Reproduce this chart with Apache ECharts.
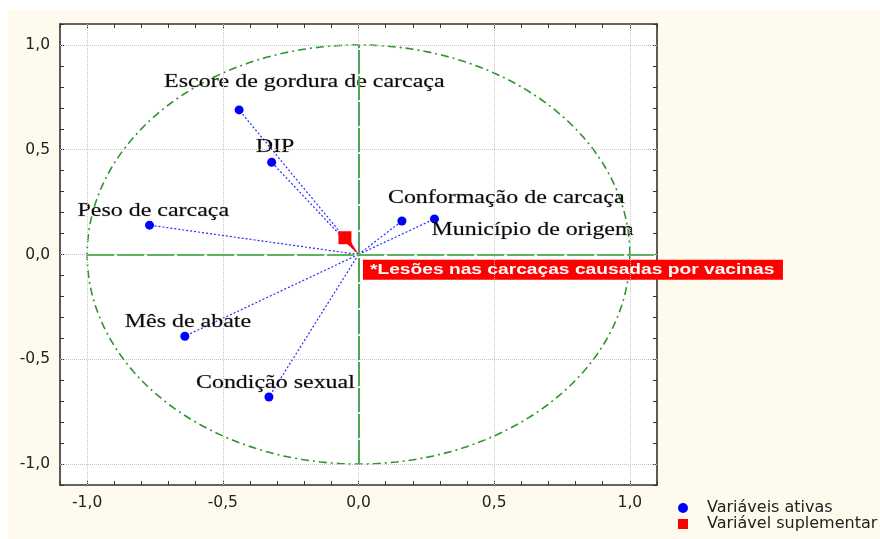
<!DOCTYPE html>
<html>
<head>
<meta charset="utf-8">
<script src="https://cdn.jsdelivr.net/npm/echarts@6/dist/echarts.min.js"></script>
<style>
html,body{margin:0;padding:0;background:#ffffff;}
#chart{width:880px;height:539px;}
</style>
</head>
<body>
<div id="chart"></div>
<script>
// ---- data ----
const varNames = ['Escore de gordura de carcaça', 'DIP', 'Peso de carcaça', 'Conformação de carcaça', 'Município de origem', 'Mês de abate', 'Condição sexual'];
const varX = [-0.44, -0.32, -0.77, 0.16, 0.28, -0.64, -0.33];
const varY = [0.69, 0.44, 0.14, 0.16, 0.17, -0.39, -0.68];
const supNames = ['*Lesões nas carcaças causadas por vacinas'];
const supX = [-0.05];
const supY = [0.08];
const tickValues = [-1, -0.5, 0, 0.5, 1];
const tickLabels = ['-1,0', '-0,5', '0,0', '0,5', '1,0'];
const legendNames = ['Variáveis ativas', 'Variável suplementar'];
const circleCenter = [0, 0];
const circleRadius = [1];

// ---- layout (pixel offsets of labels relative to their points) ----
const varLabelOffsets = [[-75, -28], [-16, -15], [-72, -14], [-14, -23], [-3, 11], [-60, -14], [-73, -14]];
const supLabelBox = [18, 22, 420, 20];

const chart = echarts.init(document.getElementById('chart'), null, {renderer: 'canvas'});

function fmt(v) {
  for (let k = 0; k < tickValues.length; k++) {
    if (Math.abs(v - tickValues[k]) < 1e-6) return tickLabels[k];
  }
  return '';
}

const frameColor = '#333333';
function mkAxis(pos, showLabel) {
  return {
    type: 'value', position: pos, min: -1.1, max: 1.1, interval: 0.1,
    axisLine: {show: true, onZero: false, lineStyle: {color: frameColor, width: 1.6}},
    axisTick: {show: true, inside: true, length: 4, lineStyle: {color: frameColor, width: 1}},
    axisLabel: {show: showLabel, formatter: fmt, fontFamily: 'DejaVu Sans', fontSize: 15.5, color: '#222', margin: 10, hideOverlap: false},
    splitLine: {show: false}
  };
}

const gridLine = {type: 'dotted', color: '#c4c4c4', width: 1};
const markData = [];
tickValues.forEach(v => markData.push({xAxis: v, lineStyle: gridLine}));
tickValues.forEach(v => markData.push({yAxis: v, lineStyle: gridLine}));
markData.push([{coord: [-1, 0], lineStyle: {type: [27, 3], color: '#5fb35f', width: 2}}, {coord: [1.1, 0]}]);
markData.push([{coord: [0, -1], lineStyle: {type: [24, 2], color: '#4fa84f', width: 2}}, {coord: [0, 1]}]);

function renderCircle(params, api) {
  const r = api.value(2);
  const cx = api.value(0), cy = api.value(1);
  const pts = [];
  for (let k = 0; k <= 180; k++) {
    const t = k / 180 * Math.PI * 2;
    pts.push(api.coord([cx + r * Math.cos(t), cy + r * Math.sin(t)]));
  }
  return {type: 'polyline', shape: {points: pts}, style: {stroke: '#2f942f', lineWidth: 1.6, fill: null, lineDash: [8, 4, 2, 4]}};
}

function renderVar(params, api) {
  const i = params.dataIndex;
  const p = api.coord([api.value(0), api.value(1)]);
  const o = api.coord([0, 0]);
  const off = varLabelOffsets[i];
  return {
    type: 'group',
    children: [
      {type: 'line', shape: {x1: o[0], y1: o[1], x2: p[0], y2: p[1]}, style: {stroke: '#2a2aff', lineWidth: 1.2, lineDash: [2, 2]}},
      {type: 'circle', shape: {cx: p[0], cy: p[1], r: 4.5}, style: {fill: '#0000ff'}},
      {type: 'text', x: p[0] + off[0], y: p[1] + off[1], scaleX: 1.26, scaleY: 1,
        style: {text: varNames[i], x: 0, y: 0, fill: '#0a0a0a', font: '19px "Liberation Serif"',
          stroke: 'rgba(40,30,10,0.35)', lineWidth: 0.6,
          align: 'left', verticalAlign: 'middle', textAlign: 'left', textVerticalAlign: 'middle'}}
    ]
  };
}

function renderSup(params, api) {
  const i = params.dataIndex;
  const p = api.coord([api.value(0), api.value(1)]);
  const o = api.coord([0, 0]);
  const b = supLabelBox;
  const dx = o[0] - p[0], dy = o[1] - p[1];
  const len = Math.sqrt(dx * dx + dy * dy) || 1;
  const nx = -dy / len, ny = dx / len;
  const w = 3;
  return {
    type: 'group',
    children: [
      {type: 'polygon', shape: {points: [[p[0] + nx * w, p[1] + ny * w], [p[0] - nx * w, p[1] - ny * w], [o[0], o[1]]]}, style: {fill: '#ff0000'}},
      {type: 'rect', shape: {x: p[0] - 6.5, y: p[1] - 6.5, width: 13, height: 13}, style: {fill: '#ff0000'}},
      {type: 'rect', shape: {x: p[0] + b[0], y: p[1] + b[1], width: b[2], height: b[3]}, style: {fill: '#ff0000'}},
      {type: 'text', x: p[0] + b[0] + 7, y: p[1] + b[1] + b[3] / 2 + 0.5, scaleX: 1.28, scaleY: 1,
        style: {text: supNames[i], x: 0, y: 0, fill: '#ffffff', font: 'bold 15px "Liberation Sans"',
          align: 'left', verticalAlign: 'middle', textAlign: 'left', textVerticalAlign: 'middle'}}
    ]
  };
}

const option = {
  animation: false,
  backgroundColor: '#ffffff',
  graphic: [{type: 'rect', left: 8, top: 10, z: -10, silent: true, shape: {width: 872, height: 529}, style: {fill: '#FFFAEE'}}],
  grid: {left: 60, right: 223, top: 24, bottom: 54, show: true, backgroundColor: '#ffffff', borderWidth: 0},
  xAxis: [mkAxis('bottom', true), mkAxis('top', false)],
  yAxis: [mkAxis('left', true), mkAxis('right', false)],
  legend: {
    orient: 'vertical', left: 678, top: 500, padding: 0, itemWidth: 10, itemHeight: 10, itemGap: 0,
    symbolKeepAspect: true,
    textStyle: {fontFamily: 'DejaVu Sans', fontSize: 16, color: '#222', lineHeight: 16, padding: [0, 0, 0, 14]},
    data: [{name: legendNames[0], icon: 'circle'}, {name: legendNames[1], icon: 'rect'}]
  },
  series: [
    {
      type: 'custom', name: 'ref', silent: true, clip: false, xAxisIndex: 0, yAxisIndex: 0,
      renderItem: renderCircle,
      data: [[circleCenter[0], circleCenter[1], circleRadius[0]]],
      encode: {x: 0, y: 1},
      markLine: {silent: true, symbol: ['none', 'none'], label: {show: false}, animation: false, data: markData}
    },
    {
      type: 'custom', name: legendNames[0], clip: false, xAxisIndex: 0, yAxisIndex: 0,
      itemStyle: {color: '#0000ff'},
      renderItem: renderVar,
      data: varX.map((x, i) => [x, varY[i]]),
      encode: {x: 0, y: 1}
    },
    {
      type: 'custom', name: legendNames[1], clip: false, xAxisIndex: 0, yAxisIndex: 0,
      itemStyle: {color: '#ff0000'},
      renderItem: renderSup,
      data: supX.map((x, i) => [x, supY[i]]),
      encode: {x: 0, y: 1}
    }
  ]
};
chart.setOption(option);
</script>
</body>
</html>
